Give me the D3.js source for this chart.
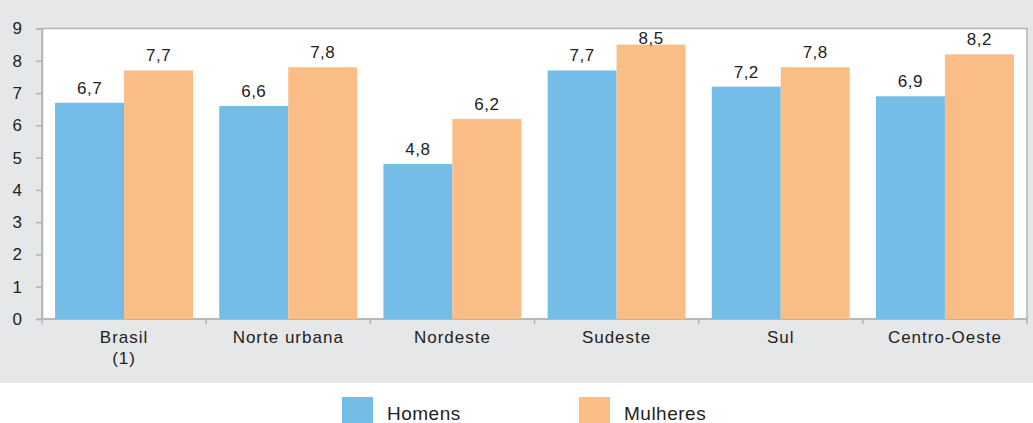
<!DOCTYPE html>
<html>
<head>
<meta charset="utf-8">
<script src="https://cdn.jsdelivr.net/npm/d3@7"></script>
<style>
  body { margin: 0; background: #fff; }
  svg { display: block; font-family: "Liberation Sans", Arial, sans-serif; }
</style>
</head>
<body>
<div id="chart"></div>
<script>
// data
const regions = ["Brasil (1)", "Norte urbana", "Nordeste", "Sudeste", "Sul", "Centro-Oeste"];
const series = ["Homens", "Mulheres"];
const homens = [6.7, 6.6, 4.8, 7.7, 7.2, 6.9];
const mulheres = [7.7, 7.8, 6.2, 8.5, 7.8, 8.2];
const yTicks = [0, 1, 2, 3, 4, 5, 6, 7, 8, 9];

const colors = { "Homens": "#74bde8", "Mulheres": "#fbbd86" };

const rows = regions.map((r, i) => ({
    region: r,
    values: [
        { key: "Homens", value: homens[i] },
        { key: "Mulheres", value: mulheres[i] }
    ]
}));

const width = 1033, height = 423;
const plotLeft = 42, plotRight = 1027, plotTop = 28.5, plotBottom = 319;

const svg = d3.select("#chart")
    .append("svg")
    .attr("width", width)
    .attr("height", height);

// grey panel
svg.append("rect")
    .attr("x", 0).attr("y", 0)
    .attr("width", width).attr("height", 383)
    .attr("fill", "#e6e7e9");

const x0 = d3.scaleBand()
    .domain(regions)
    .range([plotLeft, plotRight])
    .padding(0);

const x1 = d3.scaleBand()
    .domain(series)
    .range([0, x0.bandwidth()])
    .paddingInner(0)
    .paddingOuter(0.19);

const y = d3.scaleLinear()
    .domain([0, 9])
    .range([plotBottom, plotTop]);

// plot area
svg.append("rect")
    .attr("x", plotLeft).attr("y", plotTop)
    .attr("width", plotRight - plotLeft).attr("height", plotBottom - plotTop)
    .attr("fill", "#fff")
    .attr("stroke", "#b4b4b4")
    .attr("stroke-width", 1.5);

// y axis
const yAxis = svg.append("g")
    .attr("transform", `translate(${plotLeft},0)`)
    .call(d3.axisLeft(y).tickValues(yTicks).tickSize(6).tickPadding(14).tickFormat(d3.format("d")));
yAxis.select(".domain").attr("stroke", "#b4b4b4").attr("stroke-width", 1.5);
yAxis.selectAll(".tick line").attr("stroke", "#b4b4b4").attr("stroke-width", 1.5);
yAxis.selectAll(".tick text")
    .attr("fill", "#222")
    .style("font-size", "17px")
    .style("font-family", "Liberation Sans, Arial, sans-serif");

// x axis line and boundary ticks
svg.append("line")
    .attr("x1", plotLeft).attr("x2", plotRight)
    .attr("y1", plotBottom).attr("y2", plotBottom)
    .attr("stroke", "#b4b4b4").attr("stroke-width", 1.5);

const bounds = regions.map(r => x0(r)).concat([plotRight]);
svg.selectAll(".xtick")
    .data(bounds)
    .enter().append("line")
    .attr("class", "xtick")
    .attr("x1", d => d).attr("x2", d => d)
    .attr("y1", plotBottom).attr("y2", plotBottom + 5)
    .attr("stroke", "#b4b4b4").attr("stroke-width", 1.5);

// category labels
const catLabels = svg.selectAll(".cat")
    .data(regions)
    .enter().append("text")
    .attr("class", "cat")
    .attr("text-anchor", "middle")
    .attr("fill", "#222")
    .style("font-size", "17px")
    .style("letter-spacing", "1px");

catLabels.each(function(d) {
    const cx = x0(d) + x0.bandwidth() / 2;
    const parts = d === "Brasil (1)" ? ["Brasil", "(1)"] : [d];
    parts.forEach((p, i) => {
        d3.select(this).append("tspan")
            .attr("x", cx)
            .attr("y", 343 + i * 21)
            .text(p);
    });
});

// bars
const groups = svg.selectAll(".group")
    .data(rows)
    .enter().append("g")
    .attr("class", "group")
    .attr("transform", d => `translate(${x0(d.region)},0)`);

groups.selectAll("rect")
    .data(d => d.values)
    .enter().append("rect")
    .attr("x", d => x1(d.key))
    .attr("y", d => y(d.value))
    .attr("width", x1.bandwidth())
    .attr("height", d => plotBottom - y(d.value))
    .attr("fill", d => colors[d.key]);

groups.selectAll(".val")
    .data(d => d.values)
    .enter().append("text")
    .attr("class", "val")
    .attr("x", d => x1(d.key) + x1.bandwidth() / 2)
    .attr("y", d => Math.max(y(d.value) - 9, 43.5))
    .attr("text-anchor", "middle")
    .attr("fill", "#222")
    .style("font-size", "17px")
    .style("letter-spacing", "0.5px")
    .text(d => d3.format(".1f")(d.value).replace(".", ","));

// legend
const legendX = { "Homens": 342, "Mulheres": 579 };
const legend = svg.selectAll(".legend")
    .data(series)
    .enter().append("g")
    .attr("class", "legend")
    .attr("transform", d => `translate(${legendX[d]},397)`);

legend.append("rect")
    .attr("width", 31).attr("height", 27)
    .attr("fill", d => colors[d]);

legend.append("text")
    .attr("x", 45)
    .attr("y", 23)
    .attr("fill", "#222")
    .style("font-size", "19px")
    .style("letter-spacing", "0.5px")
    .text(d => d);
</script>
</body>
</html>
